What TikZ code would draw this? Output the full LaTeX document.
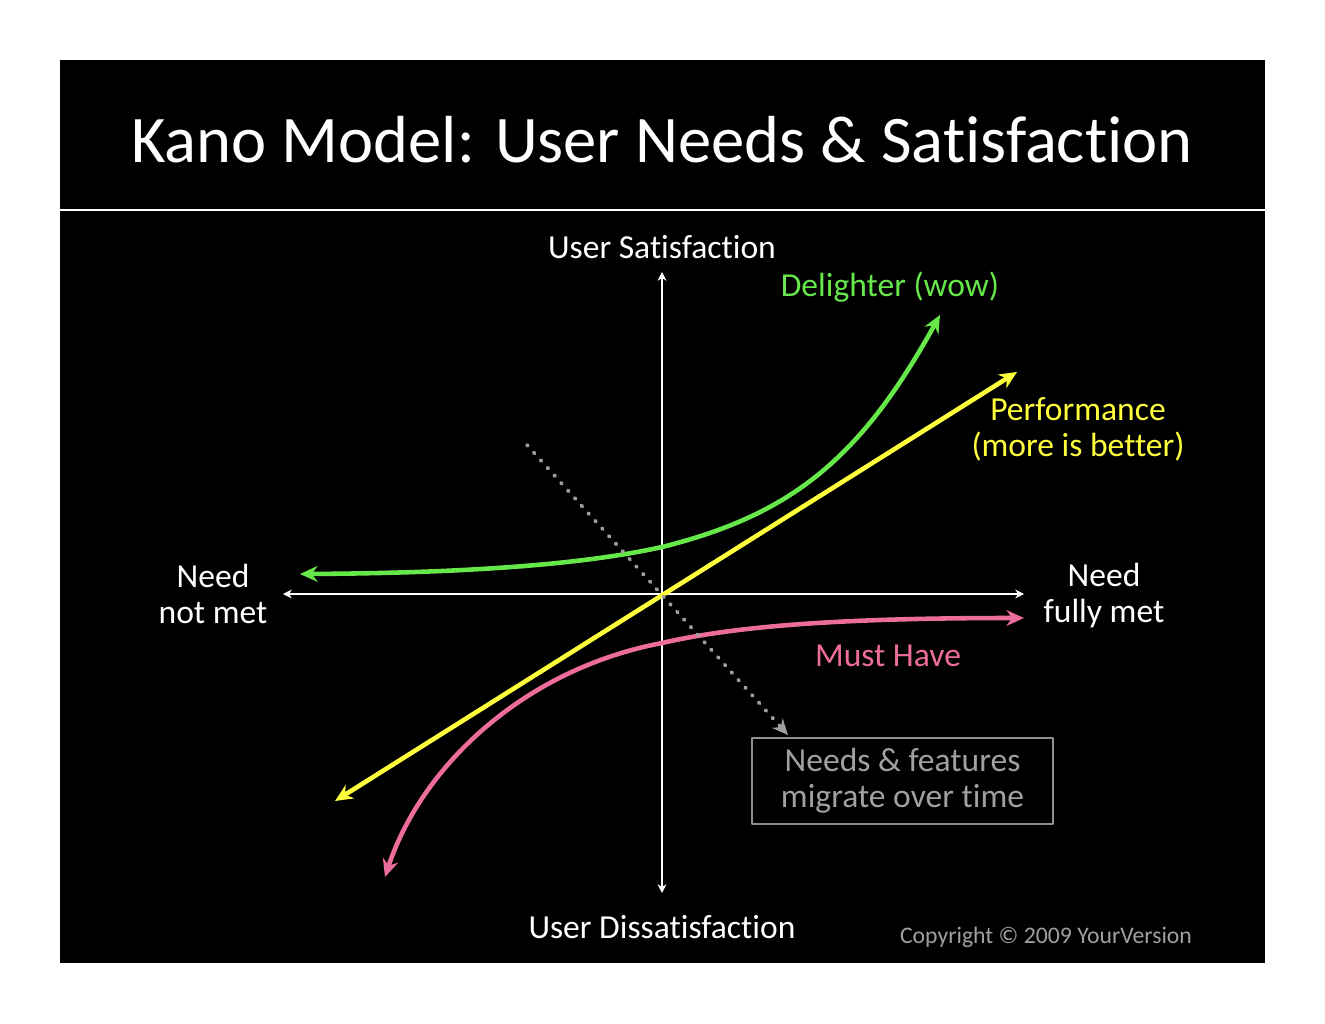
\documentclass[tikz,border=0pt]{standalone}
\usepackage{fontspec}
\setmainfont{Carlito}[Ligatures=NoCommon]
\usetikzlibrary{arrows.meta}
\definecolor{delight}{HTML}{66E84A}
\definecolor{perform}{HTML}{FFFF3C}
\definecolor{musthave}{HTML}{EC6C9C}
\definecolor{migrate}{HTML}{A0A0A0}
\tikzset{
  every picture/.style={line join=round, line cap=round, >=Stealth},
  axis/.style={draw=white, line width=0.7pt, {Stealth[length=5pt,width=5pt]}-{Stealth[length=5pt,width=5pt]}},
  curve/.style={line width=2.6pt, {Stealth[length=10pt,width=9pt]}-{Stealth[length=10pt,width=9pt]}},
  lbl/.style={font=\fontsize{19.1}{20.5}\selectfont, align=center, inner sep=0pt},
}
\begin{document}
\begin{tikzpicture}[x=0.02cm,y=-0.02cm]
\fill[white](0,0)rectangle(1325,1024);
\fill[black](60,60)rectangle(1265,963);
\draw[white,line width=0.6pt](60,210)--(1265,210);
\node[white,inner sep=0pt,font=\fontsize{37.9}{46}\selectfont](title) at (662,140){Kano Model: User Needs \& Satisfaction};
% axes
\coordinate (xl) at (283,594);
\coordinate (xr) at (1024,594);
\coordinate (yt) at (662,272);
\coordinate (yb) at (662,893);
\draw[axis](xl)--(xr);
\draw[axis](yb)--(yt);
\node[lbl,white](ysat) at (662,247){User Satisfaction};
\node[lbl,white](ydis) at (662,927){User Dissatisfaction};
\node[lbl,white](xneg) at (213,594){Need\\not met};
\node[lbl,white](xpos) at (1104,596){Need\\fully met};
% curves
\coordinate (gA) at (300,574);
\coordinate (gB) at (662,547);
\coordinate (gC) at (940,315);
\draw[curve,delight](gA)..controls(480,573)and(590,563)..(gB)..controls(790,515)and(860,460)..(gC);
\coordinate (yA) at (335,801);
\coordinate (yC) at (1017,372);
\draw[curve,perform](yA)--(yC);
\coordinate (pA) at (385,877);
\coordinate (pB) at (662,643);
\coordinate (pC) at (1024,618);
\draw[curve,musthave](pA)..controls(420,770)and(520,670)..(pB)..controls(740,625)and(850,618)..(pC);
\node[lbl,delight](delighter) at (890,287){Delighter (wow)};
\node[lbl,perform](perf) at (1078,429){Performance\\(more is better)};
\node[lbl,musthave](must) at (888,656){Must Have};
% migration
\node[lbl,draw=migrate!90!black,line width=0.6pt,text=migrate,minimum width=301*0.02cm,minimum height=86*0.02cm](mig) at (902.5,781){Needs \& features\\migrate over time};
\coordinate (dA) at (527,445);
\coordinate (dB) at (788,735);
\draw[migrate,line width=2.2pt,line cap=round,dash pattern=on 0.6pt off 5.2pt,-{Stealth[length=9pt,width=8pt]}](dA)--(dB);
\node[migrate,inner sep=0pt,font=\fontsize{13.5}{15}\selectfont](copy) at (1046,937){Copyright © 2009 YourVersion};
\end{tikzpicture}
\end{document}
